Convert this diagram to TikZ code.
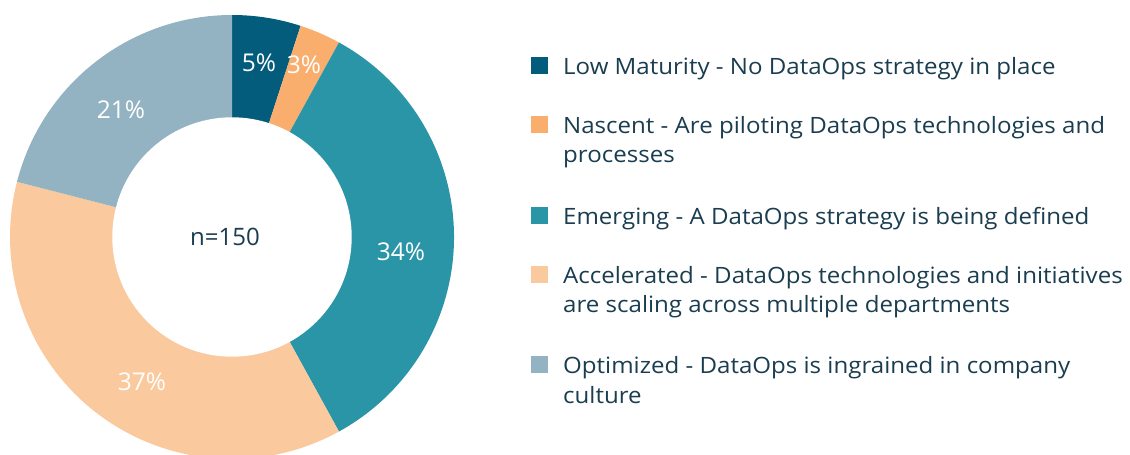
\documentclass[tikz,border=0pt]{standalone}
\usepackage{fontspec}
\setmainfont{Open Sans}
\newfontfamily\legfont{Open Sans}[FakeStretch=1.07]
\definecolor{cLow}{HTML}{045C7C}
\definecolor{cNas}{HTML}{F9AE6E}
\definecolor{cEme}{HTML}{2B95A8}
\definecolor{cAcc}{HTML}{FAC99D}
\definecolor{cOpt}{HTML}{93B3C2}
\definecolor{cTxt}{HTML}{1A3D4F}
\newcommand{\twolines}[2]{\vtop{\hbox{#1}\hbox{#2}}}
\begin{document}
\begin{tikzpicture}[x=1pt,y=1pt,
  pct/.style={text=white,font=\fontsize{24.5}{28}\selectfont,inner sep=0pt},
  legsq/.style={minimum size=17pt,inner sep=0pt,anchor=south west},
  legtxt/.style={anchor=base west,text=cTxt,inner sep=0pt,font=\legfont\fontsize{22.5}{29.3}\selectfont}]
\useasboundingbox (0,0) rectangle (1130,455);
\clip (0,0) rectangle (1130,455);
\coordinate (C) at (232,218);
\foreach \a/\b/\col in {90/72/cLow,72/61.2/cNas,61.2/-61.2/cEme,-61.2/-194.4/cAcc,165.6/90/cOpt}{
  \fill[\col] (C) -- ++(\a:222) arc[start angle=\a,end angle=\b,radius=222] -- cycle;
}
\fill[white] (C) circle[radius=119.7];
\node[pct] (p5) at (259,392) {5\%};
\node[pct] (p3) at (304,390) {3\%};
\node[pct] (p21) at (121,345) {21\%};
\node[pct] (p34) at (401,203) {34\%};
\node[pct] (p37) at (142,73) {37\%};
\node[pct,text=cTxt,font=\fontsize{24}{28}\selectfont] (n) at (225,218) {n=150};
% legend
\node[legsq,fill=cLow] (s1) at (531,380.5) {};
\node[legtxt] (t1) at (563,380) {Low Maturity - No DataOps strategy in place};
\node[legsq,fill=cNas] (s2) at (531,321.7) {};
\node[legtxt] (t2) at (563,321.7) {\twolines{Nascent - Are piloting DataOps technologies and}{processes}};
\node[legsq,fill=cEme] (s3) at (531,230.5) {};
\node[legtxt] (t3) at (563,230) {Emerging - A DataOps strategy is being defined};
\node[legsq,fill=cAcc] (s4) at (531,171.5) {};
\node[legtxt] (t4) at (563,171.7) {\twolines{Accelerated - DataOps technologies and initiatives}{are scaling across multiple departments}};
\node[legsq,fill=cOpt] (s5) at (531,81.5) {};
\node[legtxt] (t5) at (563,81) {\twolines{Optimized - DataOps is ingrained in company}{culture}};
\end{tikzpicture}
\end{document}
